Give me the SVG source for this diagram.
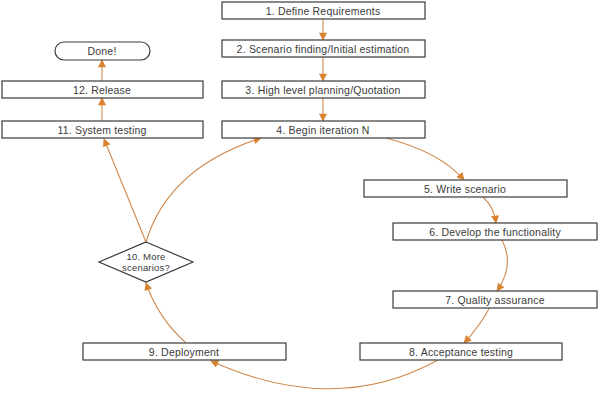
<svg xmlns="http://www.w3.org/2000/svg" width="600" height="400" viewBox="0 0 600 400">
<style>
.b{fill:#fff;stroke:#3a3a3a;stroke-width:1.2}
.t{font-family:"Liberation Sans",Arial,sans-serif;font-size:10.5px;letter-spacing:0.2px;fill:#3a3a3a;text-anchor:middle}
.s{font-size:9.5px}
.c{fill:none;stroke:#cf8a4f;stroke-width:1.1}
</style>
<defs>
<marker id="a" viewBox="0 0 10 10" refX="9" refY="5" markerWidth="10" markerHeight="8" orient="auto" markerUnits="userSpaceOnUse">
<path d="M0,0 L10,5 L0,10 z" fill="#d9822f"/>
</marker>
</defs>
<rect width="600" height="400" fill="#fff"/>
<g id="connectors">
<path class="c" d="M323,19 V40" marker-end="url(#a)"/>
<path class="c" d="M323,57 V81" marker-end="url(#a)"/>
<path class="c" d="M323,98 V121" marker-end="url(#a)"/>
<path class="c" d="M386,138 Q440,152 464,180" marker-end="url(#a)"/>
<path class="c" d="M483,197 Q494,207 496,223" marker-end="url(#a)"/>
<path class="c" d="M502,240 Q515,265 497,291" marker-end="url(#a)"/>
<path class="c" d="M490,307 Q480,326 464,343" marker-end="url(#a)"/>
<path class="c" d="M438,360 Q335,417 211,361" marker-end="url(#a)"/>
<path class="c" d="M186,343 Q158,318 146,283" marker-end="url(#a)"/>
<path class="c" d="M146,242 L104,139" marker-end="url(#a)"/>
<path class="c" d="M146,242 Q168,168 261,138" marker-end="url(#a)"/>
<path class="c" d="M102,121 V98" marker-end="url(#a)"/>
<path class="c" d="M102,81 V60" marker-end="url(#a)"/>
</g>
<g id="n1"><rect class="b" x="222" y="2" width="203" height="17"/><text class="t" x="323" y="14.5">1. Define Requirements</text></g>
<g id="n2"><rect class="b" x="222" y="40" width="203" height="17"/><text class="t" x="323" y="52.5">2. Scenario finding/Initial estimation</text></g>
<g id="n3"><rect class="b" x="222" y="81" width="203" height="17"/><text class="t" x="323" y="93.5">3. High level planning/Quotation</text></g>
<g id="n4"><rect class="b" x="222" y="121" width="203" height="17"/><text class="t" x="323" y="133.5">4. Begin iteration N</text></g>
<g id="n5"><rect class="b" x="364" y="180" width="203" height="17"/><text class="t" x="465" y="192.5">5. Write scenario</text></g>
<g id="n6"><rect class="b" x="393" y="223" width="204" height="17"/><text class="t" x="495" y="235.5">6. Develop the functionality</text></g>
<g id="n7"><rect class="b" x="393" y="291" width="204" height="17"/><text class="t" x="495" y="303.5">7. Quality assurance</text></g>
<g id="n8"><rect class="b" x="360" y="343" width="202" height="17"/><text class="t" x="461" y="355.5">8. Acceptance testing</text></g>
<g id="n9"><rect class="b" x="83" y="343" width="203" height="17"/><text class="t" x="184" y="355.5">9. Deployment</text></g>
<g id="n10"><path class="b" d="M146,242 L193,262 L146,282 L99,262 Z"/><text class="t s" x="146" y="260">10. More</text><text class="t s" x="146" y="270.5">scenarios?</text></g>
<g id="n11"><rect class="b" x="2" y="121" width="201" height="17"/><text class="t" x="102" y="133.5">11. System testing</text></g>
<g id="n12"><rect class="b" x="2" y="81" width="201" height="17"/><text class="t" x="102" y="93.5">12. Release</text></g>
<g id="done"><rect class="b" x="55" y="42" width="95" height="18" rx="9" ry="9"/><text class="t" x="102" y="54.5">Done!</text></g>
</svg>
